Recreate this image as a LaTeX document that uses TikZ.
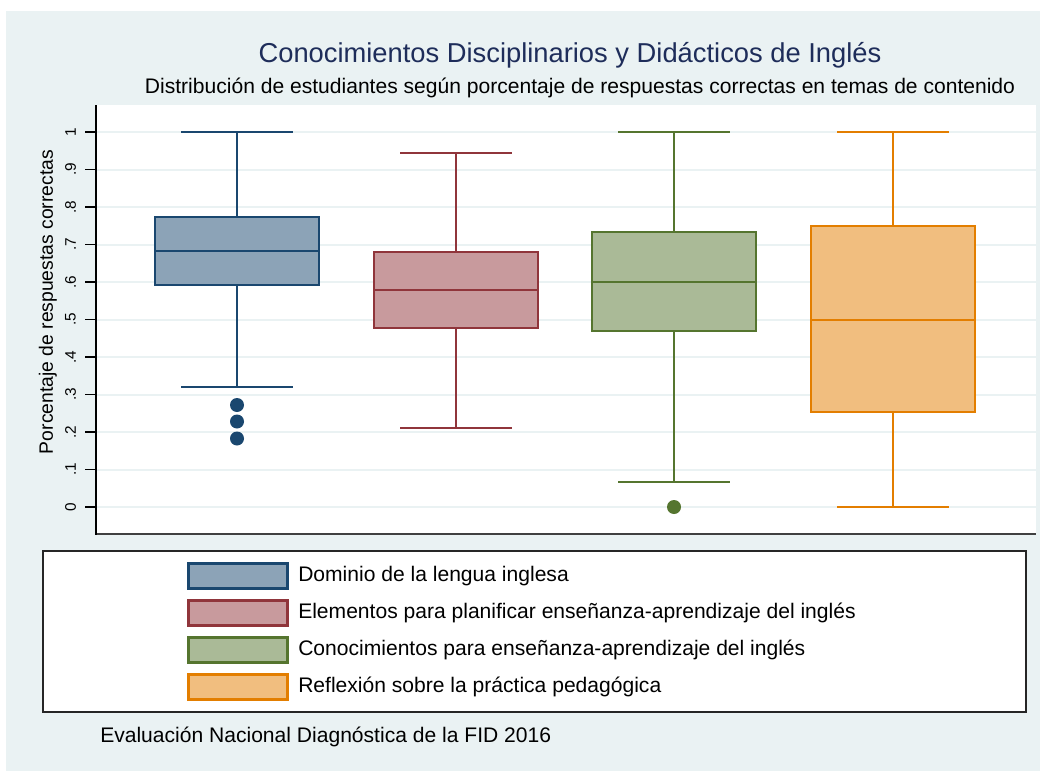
\documentclass[tikz,border=0pt]{standalone}
\usepackage{fontspec}
\setmainfont{Liberation Sans}
\definecolor{bgcol}{RGB}{234,242,243}
\definecolor{titlecol}{RGB}{30,45,90}
\definecolor{navyline}{RGB}{26,71,111}
\definecolor{navyfill}{RGB}{140,163,183}
\definecolor{maroonline}{RGB}{144,53,59}
\definecolor{maroonfill}{RGB}{200,154,157}
\definecolor{greenline}{RGB}{85,117,47}
\definecolor{greenfill}{RGB}{170,186,151}
\definecolor{orangeline}{RGB}{227,126,0}
\definecolor{orangefill}{RGB}{241,190,127}

\begin{document}
\begin{tikzpicture}[x=0.75pt, y=-0.75pt,
    whisker/.style ={line width=1.9pt},
    boxline/.style ={line width=2.2pt},
    outlier/.style ={circle, inner sep=0pt, minimum size=10.5pt},
    key/.style ={rectangle, line width=2pt, minimum width=74pt, minimum height=19pt, inner sep=0pt},
    keylabel/.style ={anchor=west, inner sep=0pt, font=\fontsize{15.8}{18}\selectfont},
    ticklabel/.style ={rotate=90, font=\fontsize{11.5}{13}\selectfont}]
   \useasboundingbox (0,0) rectangle (1047,771);
   \fill[bgcol] (6,11) rectangle (1040,771);
   \fill[white] (96,105) rectangle (1036,534);
   \foreach \v/\lab in {0/0, 1/.1, 2/.2, 3/.3, 4/.4, 5/.5, 6/.6, 7/.7, 8/.8, 9/.9, 10/1} {
     \draw[bgcol, line width=1.5pt] (97,507-37.5*\v) -- (1036,507-37.5*\v);
     \draw[line width=0.8pt] (85,507-37.5*\v) -- (96,507-37.5*\v);
     \node[ticklabel] (t\v) at (70.5,507-37.5*\v) {\lab};
   }
   \draw[black!75, line width=1.1pt] (96,534) -- (1036,534);
   \draw[line width=1pt] (96,105) -- (96,534.5);

   \node[font=\fontsize{20.5}{24}\selectfont, text=titlecol] (title) at (570,55) {Conocimientos Disciplinarios y Didácticos de Inglés};
   \node[font=\fontsize{15.8}{18}\selectfont] (subtitle) at (580,88) {Distribución de estudiantes según porcentaje de respuestas correctas en temas de contenido};
   \node[rotate=90, font=\fontsize{14.5}{17}\selectfont] (ytitle) at (48,302) {Porcentaje de respuestas correctas};

   \draw[whisker, navyline] (237,285) -- (237,387) (181,387) -- (293,387);
   \draw[whisker, navyline] (237,217) -- (237,132) (181,132) -- (293,132);
   \filldraw[boxline, draw=navyline, fill=navyfill] (155,217) rectangle (319,285);
   \draw[boxline, navyline] (155,251) -- (319,251);
   \node[outlier, fill=navyline] (o1) at (237,405) {};
   \node[outlier, fill=navyline] (o2) at (237,421.5) {};
   \node[outlier, fill=navyline] (o3) at (237,438.5) {};

   \draw[whisker, maroonline] (456,328) -- (456,428) (400,428) -- (512,428);
   \draw[whisker, maroonline] (456,252) -- (456,153) (400,153) -- (512,153);
   \filldraw[boxline, draw=maroonline, fill=maroonfill] (374,252) rectangle (538,328);
   \draw[boxline, maroonline] (374,290) -- (538,290);

   \draw[whisker, greenline] (674,331) -- (674,482) (618,482) -- (730,482);
   \draw[whisker, greenline] (674,232) -- (674,132) (618,132) -- (730,132);
   \filldraw[boxline, draw=greenline, fill=greenfill] (592,232) rectangle (756,331);
   \draw[boxline, greenline] (592,282) -- (756,282);
   \node[outlier, fill=greenline] (o4) at (674,507) {};

   \draw[whisker, orangeline] (893,412) -- (893,507) (837,507) -- (949,507);
   \draw[whisker, orangeline] (893,226) -- (893,132) (837,132) -- (949,132);
   \filldraw[boxline, draw=orangeline, fill=orangefill] (811,226) rectangle (975,412);
   \draw[boxline, orangeline] (811,320) -- (975,320);

   \filldraw[fill=white, draw=black!85, line width=1.1pt] (43,551) rectangle (1026,712);
   \node[key, draw=navyline, fill=navyfill] (k1) at (238,576) {};
   \node[key, draw=maroonline, fill=maroonfill] (k2) at (238,613) {};
   \node[key, draw=greenline, fill=greenfill] (k3) at (238,650) {};
   \node[key, draw=orangeline, fill=orangefill] (k4) at (238,687) {};
   \node[keylabel] (l1) at (298,576) {Dominio de la lengua inglesa};
   \node[keylabel] (l2) at (298,613) {Elementos para planificar enseñanza-aprendizaje del inglés};
   \node[keylabel] (l3) at (298,650) {Conocimientos para enseñanza-aprendizaje del inglés};
   \node[keylabel] (l4) at (298,687) {Reflexión sobre la práctica pedagógica};

   \node[keylabel] (source) at (100,737) {Evaluación Nacional Diagnóstica de la FID 2016};
\end{tikzpicture}
\end{document}
